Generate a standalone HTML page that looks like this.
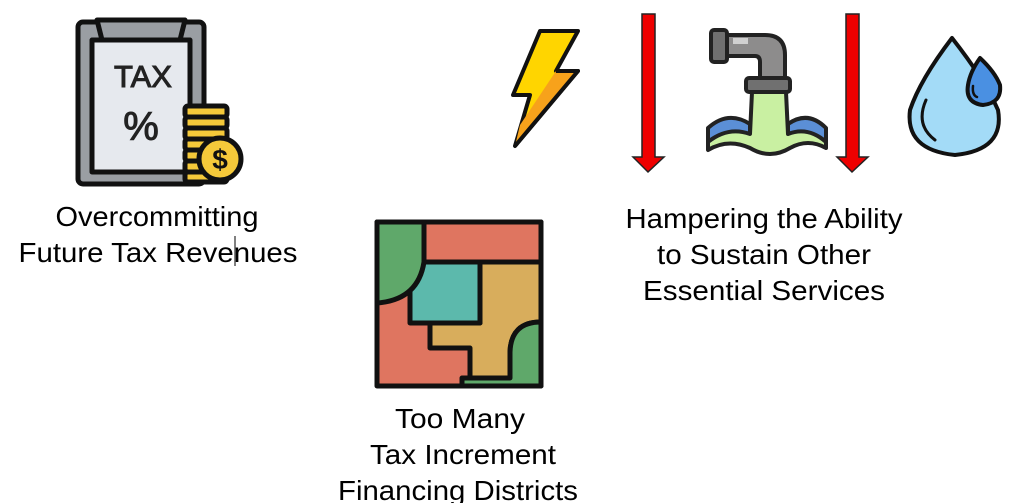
<!DOCTYPE html>
<html><head><style>body{margin:0;background:#fff;}svg{display:block}</style></head><body>
<svg width="1035" height="503" viewBox="0 0 1035 503" xmlns="http://www.w3.org/2000/svg">
<g font-family="Liberation Sans, Arial, sans-serif" font-size="28" fill="#000" text-anchor="middle">
<text x="157" y="226" textLength="203" lengthAdjust="spacingAndGlyphs">Overcommitting</text>
<text x="158" y="262" textLength="279" lengthAdjust="spacingAndGlyphs">Future Tax Revenues</text>
<text x="764" y="228" textLength="277" lengthAdjust="spacingAndGlyphs">Hampering the Ability</text>
<text x="764" y="264" textLength="214" lengthAdjust="spacingAndGlyphs">to Sustain Other</text>
<text x="764" y="300" textLength="242" lengthAdjust="spacingAndGlyphs">Essential Services</text>
<text x="460" y="428" textLength="130" lengthAdjust="spacingAndGlyphs">Too Many</text>
<text x="463" y="464" textLength="186" lengthAdjust="spacingAndGlyphs">Tax Increment</text>
<text x="458" y="500" textLength="240" lengthAdjust="spacingAndGlyphs">Financing Districts</text>
</g>
<line x1="235" y1="236" x2="235" y2="266" stroke="#000" stroke-width="1"/>

<!-- Tax clipboard -->
<g stroke="#111" stroke-width="5" stroke-linejoin="round">
<rect x="78" y="22" width="126" height="162" rx="5" fill="#9a9ea3"/>
<rect x="92" y="40" width="98" height="132" fill="#e6e9ee"/>
<path d="M97 20 L185 20 L180 40 L102 40 Z" fill="#9a9ea3"/>
<g fill="#f5c93a">
<rect x="185" y="106" width="42" height="11" rx="3"/>
<rect x="185" y="117" width="42" height="11" rx="3"/>
<rect x="185" y="128" width="42" height="11" rx="3"/>
<rect x="185" y="139" width="42" height="11" rx="3"/>
<rect x="185" y="150" width="42" height="11" rx="3"/>
<rect x="185" y="161" width="42" height="11" rx="3"/>
<rect x="185" y="172" width="42" height="10" rx="3"/>
</g>
<circle cx="220" cy="159" r="21" fill="#f5c93a"/>
</g>
<text x="220" y="169" font-family="Liberation Sans, sans-serif" font-weight="bold" font-size="28" text-anchor="middle" fill="#111">$</text>
<text x="143" y="87" font-family="Liberation Sans, sans-serif" font-size="31" text-anchor="middle" fill="#222" stroke="#222" stroke-width="1">TAX</text>
<text x="141" y="140" font-family="Liberation Sans, sans-serif" font-size="40" text-anchor="middle" fill="#222" stroke="#222" stroke-width="1">%</text>

<!-- bolt -->
<path d="M540 31 L578 31 L556 71 L578 71 L515 146 L530 95 L513 95 Z" fill="#ffd500" stroke="#111" stroke-width="4" stroke-linejoin="round"/>
<path d="M556 71 L578 71 L515 146 L520 125 Z" fill="#f7a21b"/>
<path d="M556 71 L578 71 L515 146" fill="none" stroke="#111" stroke-width="4" stroke-linejoin="round"/>

<!-- arrows -->
<g fill="#ee0000" stroke="#222" stroke-width="1.5">
<path d="M642 14 L655 14 L655 157 L664 157 L648 172 L633 157 L642 157 Z"/>
<path d="M846 14 L859 14 L859 157 L868 157 L852 172 L837 157 L846 157 Z"/>
</g>

<!-- faucet -->
<g stroke="#222" stroke-width="4" stroke-linejoin="round">
<path d="M708 128 Q728 110 750 124 L750 138 Q728 126 708 142 Z" fill="#5b8fd6"/>
<path d="M788 124 Q808 110 826 128 L826 142 Q808 126 788 138 Z" fill="#5b8fd6"/>
<path d="M708 142 Q728 126 750 134 L752 92 L786 92 L788 134 Q808 126 826 142 L826 148 Q808 138 790 148 Q770 160 750 148 Q728 138 708 150 Z" fill="#c9f0a2"/>
<path d="M727 35 L765 35 Q785 35 785 55 L785 80 L760 80 L760 62 Q760 56 755 56 L727 56 Z" fill="#8d8c8c"/>
<rect x="711" y="30" width="16" height="32" rx="3" fill="#707070"/>
<rect x="746" y="78" width="44" height="14" rx="3" fill="#707070"/>
</g>
<rect x="733" y="38" width="15" height="6" fill="#d0d0d0"/>

<!-- drop -->
<path d="M952 38 Q985 80 998 110 Q1005 150 955 155 Q905 150 910 110 Q920 80 952 38 Z" fill="#a3dbf7" stroke="#111" stroke-width="4" stroke-linejoin="round"/>
<path d="M926 100 Q915 125 935 140" fill="none" stroke="#111" stroke-width="3" stroke-linecap="round"/>
<path d="M980 58 Q995 72 1000 85 Q1002 103 983 105 Q965 103 968 85 Q970 72 980 58 Z" fill="#4a90e2" stroke="#111" stroke-width="4" stroke-linejoin="round"/>
<path d="M973 86 Q972 95 977 97" fill="none" stroke="#111" stroke-width="2.5" stroke-linecap="round"/>

<!-- map -->
<g stroke="#111" stroke-width="5" stroke-linejoin="round">
<rect x="377" y="222" width="164" height="164" fill="#df7560"/>
<rect x="424" y="222" width="117" height="40" fill="#df7560"/>
<path d="M480 262 L541 262 L541 322 Q511 322 510 352 L510 378 L470 378 L470 348 L430 348 L430 323 L480 323 Z" fill="#d8ad5c"/>
<path d="M410 262 L480 262 L480 323 L410 323 Z" fill="#5cb9ac"/>
<path d="M377 222 L424 222 L424 262 Q418 300 377 303 Z" fill="#5fa86a"/>
<path d="M541 322 L541 386 L462 386 L462 378 L510 378 L510 352 Q511 322 541 322 Z" fill="#5fa86a"/>
</g>
</svg>
</body></html>
